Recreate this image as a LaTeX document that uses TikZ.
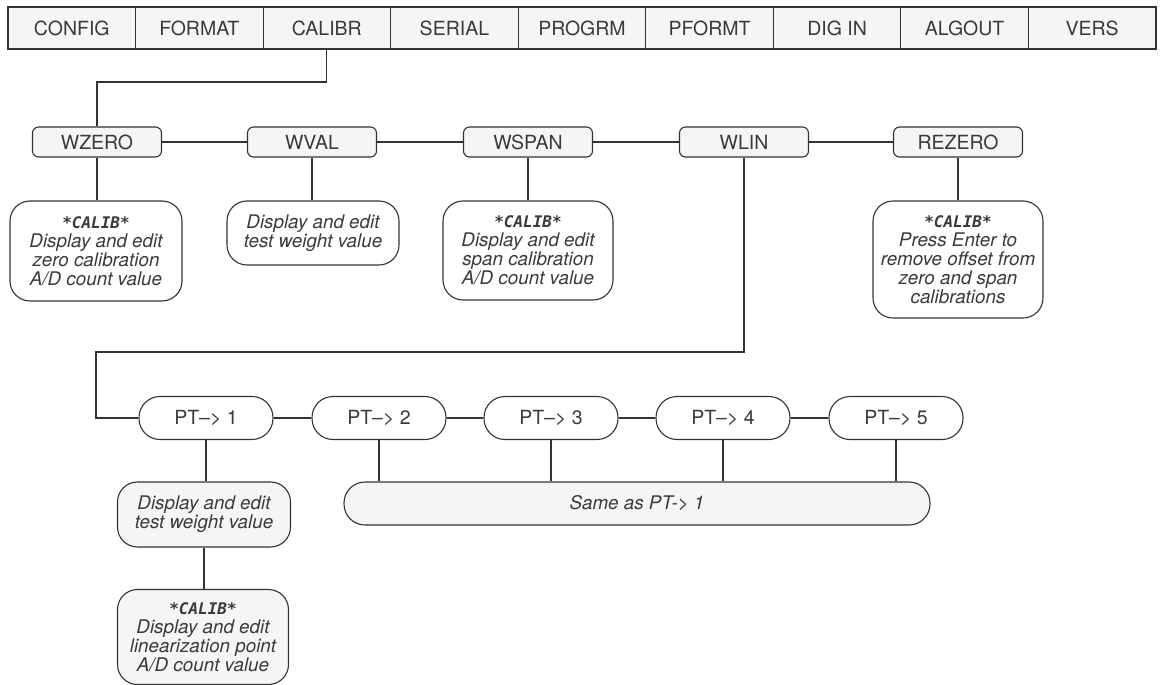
\documentclass[tikz,border=0pt]{standalone}
\usepackage{fontspec}
\setmainfont{TeX Gyre Heros}
\newfontfamily\lcdfont{DejaVu Sans Mono}
\definecolor{ln}{HTML}{333333}
\definecolor{tx}{HTML}{3A3A3A}
\definecolor{gf}{HTML}{F5F5F5}
\tikzset{
  menu/.style={draw=ln, fill=gf, line width=1.1pt, minimum width=127.55pt, minimum height=42pt, inner sep=0pt, text=tx, font=\fontsize{19.5}{22}\selectfont},
  lvl/.style={draw=ln, fill=gf, line width=1.1pt, rounded corners=6pt, minimum width=129pt, minimum height=30pt, inner sep=0pt, text=tx, font=\fontsize{19.5}{22}\selectfont},
  desc/.style={draw=ln, line width=1.1pt, rounded corners=20pt, align=center, inner sep=0pt, text=tx, font=\fontsize{18.8}{19}\selectfont\itshape},
  ptbox/.style={draw=ln, fill=white, line width=1.1pt, rounded corners=21pt, minimum width=134pt, minimum height=43pt, inner sep=0pt, text=tx, font=\fontsize{19.5}{22}\selectfont},
  conn/.style={draw=ln, line width=1.1pt}
}
\newcommand{\calibtxt}{{\lcdfont\bfseries\fontsize{16}{19}\selectfont *CALIB*}}
\begin{document}
\begin{tikzpicture}[x=1pt,y=1pt]
\useasboundingbox (0,0) rectangle (1164,-685);
% top menu
\foreach \n/\t [count=\i from 0] in {m1/CONFIG,m2/FORMAT,m3/CALIBR,m4/SERIAL,m5/PROGRM,m6/PFORMT,m7/DIG IN,m8/ALGOUT,m9/VERS}{
  \node[menu] (\n) at ({8+127.55*(\i+0.5)},-28) {\t};
}
% level 2
\node[lvl] (wzero) at (97,-142) {WZERO};
\node[lvl] (wval) at (312,-142) {WVAL};
\node[lvl] (wspan) at (528,-142) {WSPAN};
\node[lvl] (wlin) at (744,-142) {WLIN};
\node[lvl] (rezero) at (958,-142) {REZERO};
% level 3
\node[desc, fill=white, minimum width=172pt, minimum height=100pt] (d1) at (96,-251)
  {\calibtxt\\Display and edit\\zero calibration\\A/D count value};
\node[desc, fill=white, minimum width=172pt, minimum height=64pt] (d2) at (313,-233)
  {Display and edit\\test weight value};
\node[desc, fill=white, minimum width=170pt, minimum height=99pt] (d3) at (528,-250.5)
  {\calibtxt\\Display and edit\\span calibration\\A/D count value};
\node[desc, fill=white, minimum width=170pt, minimum height=117pt] (d5) at (958,-259.5)
  {\calibtxt\\Press Enter to\\remove offset from\\zero and span\\calibrations};
% PT row
\node[ptbox] (pt1) at (206,-418) {PT--> 1};
\node[ptbox] (pt2) at (379,-418) {PT--> 2};
\node[ptbox] (pt3) at (551,-418) {PT--> 3};
\node[ptbox] (pt4) at (723,-418) {PT--> 4};
\node[ptbox] (pt5) at (896,-418) {PT--> 5};
% PT descriptions
\node[desc, fill=gf, minimum width=173pt, minimum height=65pt] (p1) at (204,-514.5)
  {Display and edit\\test weight value};
\node[desc, fill=gf, minimum width=171pt, minimum height=95pt] (p2) at (203,-637)
  {\calibtxt\\Display and edit\\linearization point\\A/D count value};
\node[desc, fill=gf, rounded corners=21pt, minimum width=586pt, minimum height=43pt] (same) at (637,-503.5)
  {Same as PT-> 1};
% connectors
\coordinate (c0) at (0,-82);
\draw[conn] (m3.south) |- (c0 -| wzero.north) -- (wzero.north);
\draw[conn] (wzero) -- (wval);
\draw[conn] (wval) -- (wspan);
\draw[conn] (wspan) -- (wlin);
\draw[conn] (wlin) -- (rezero);
\draw[conn] (wzero.south) -- (wzero.south |- d1.north);
\draw[conn] (wval.south) -- (wval.south |- d2.north);
\draw[conn] (wspan.south) -- (d3.north);
\draw[conn] (rezero.south) -- (d5.north);
\coordinate (c1) at (96,-352);
\draw[conn] (wlin.south) |- (c1) |- (pt1.west);
\draw[conn] (pt1) -- (pt2);
\draw[conn] (pt2) -- (pt3);
\draw[conn] (pt3) -- (pt4);
\draw[conn] (pt4) -- (pt5);
\draw[conn] (pt1.south) -- (pt1.south |- p1.north);
\draw[conn] (p1.south) -- (p1.south |- p2.north);
\foreach \p in {pt2,pt3,pt4,pt5}{
  \draw[conn] (\p.south) -- (\p.south |- same.north);
}
\end{tikzpicture}
\end{document}
